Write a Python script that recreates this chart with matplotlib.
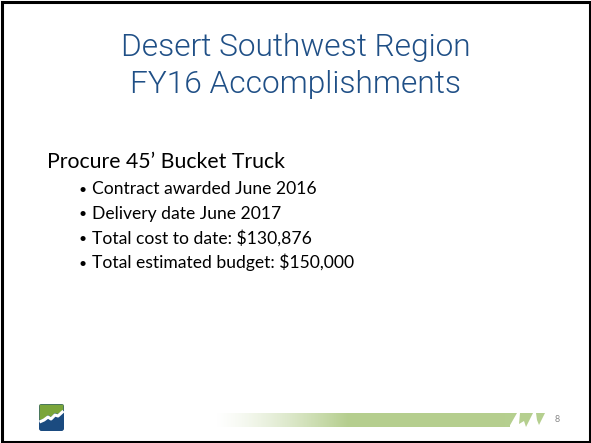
import numpy as np
import matplotlib
matplotlib.use("Agg")
import matplotlib.pyplot as plt
from matplotlib.patches import Polygon, Rectangle, FancyBboxPatch

W, H = 591, 443

title_lines = ["Desert Southwest Region", "FY16 Accomplishments"]
heading = "Procure 45\u2019 Bucket Truck"
bullets = [
    "Contract awarded June 2016",
    "Delivery date June 2017",
    "Total cost to date: $130,876",
    "Total estimated budget: $150,000",
]
page_number = "8"

plt.rcParams['font.family'] = ['Lato', 'DejaVu Sans']

fig = plt.figure(figsize=(W / 100, H / 100), dpi=100)
ax = fig.add_axes([0, 0, 1, 1])
ax.set_xlim(0, W)
ax.set_ylim(H, 0)
ax.axis("off")

# frame
ax.add_patch(Rectangle((1.5, 1.5), W - 3, H - 3, fill=False, edgecolor="black", linewidth=2.2))

# title
title_color = "#1F4F86"
for i, line in enumerate(title_lines):
    ax.text(W / 2, 56 + i * 37, line, ha="center", va="baseline", fontsize=22.8, color=title_color,
            family=["Roboto", "Lato", "DejaVu Sans"], fontweight=300)

# heading
ax.text(47, 168, heading, ha="left", va="baseline", fontsize=15.3, color="black")
for i, b in enumerate(bullets):
    y = 194 + i * 24.7
    ax.text(79, y - 0.5, "\u2022", ha="left", va="baseline", fontsize=10, color="black")
    ax.text(92, y, b, ha="left", va="baseline", fontsize=12.6, color="black")

# gradient bar
green = np.array([0.71, 0.81, 0.56])
n = 300
t = np.linspace(0, 1, n)
alpha = np.clip(t / 0.45, 0, 1) ** 1.3
img = np.zeros((1, n, 4))
img[0, :, :3] = green
img[0, :, 3] = alpha
ax.imshow(img, extent=[215, 510, 427, 413], aspect="auto", interpolation="bicubic", zorder=2)
gcol = "#B5CF8F"
ax.add_patch(Polygon([(505, 413), (517, 413), (509, 427), (505, 427)], closed=True,
                     facecolor=gcol, edgecolor="none", zorder=2))
ax.add_patch(Polygon([(520, 413), (533, 413), (526, 427), (524, 421), (519, 424)], closed=True,
                     facecolor=gcol, edgecolor="none", zorder=2))
ax.add_patch(Polygon([(536, 413), (545, 413), (539, 425), (537, 420)], closed=True,
                     facecolor=gcol, edgecolor="none", zorder=2))

ax.text(555, 419, page_number, ha="left", va="center", fontsize=6.5, color="#888888")

# logo
lx0, lx1, ly0, ly1 = 39, 64, 404, 431
ax.add_patch(FancyBboxPatch((lx0, ly0), lx1 - lx0, ly1 - ly0, boxstyle="round,pad=0,rounding_size=2.5",
                            facecolor="#1B4B80", edgecolor="none", zorder=3))
ax.add_patch(Polygon([(lx0 + 0.5, ly0 + 0.5), (lx1 - 0.5, ly0 + 0.5), (lx1 - 0.5, 410),
                      (58, 414), (55, 413), (51, 417), (48, 415), (44, 419), (lx0 + 0.5, 420)],
                     closed=True, facecolor="#7AA53A", edgecolor="none", zorder=4))
ax.plot([lx0 + 0.5, 44, 48, 51, 55, 58, lx1 - 0.5], [422, 420, 417, 419, 415, 416, 411],
        color="white", linewidth=2.2, zorder=5, solid_capstyle="butt")

fig.savefig("out.png", dpi=100)
